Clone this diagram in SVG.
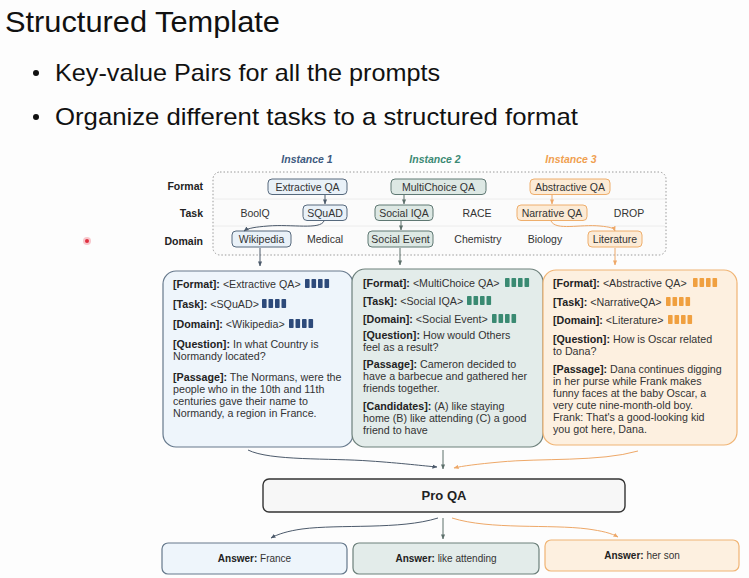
<svg xmlns="http://www.w3.org/2000/svg" width="749" height="578" viewBox="0 0 749 578">
<style>
.sans{font-family:"Liberation Sans",Arial,sans-serif;}
.slide{font-family:"Liberation Sans",Arial,sans-serif;fill:#111;}
.lbl{font-family:"Liberation Sans",Arial,sans-serif;font-size:10.5px;font-weight:bold;fill:#222;text-anchor:end;}
.inst{font-family:"Liberation Sans",Arial,sans-serif;font-size:10.5px;font-weight:bold;font-style:italic;text-anchor:middle;}
.opt{font-family:"Liberation Sans",Arial,sans-serif;font-size:10.5px;fill:#333;text-anchor:middle;}
.card{font-family:"Liberation Sans",Arial,sans-serif;font-size:10.7px;fill:#333;}
.card tspan.k{font-weight:bold;fill:#222;}
.b1{fill:#e9f1f8;stroke:#56697d;stroke-width:1;}
.b2{fill:#dde8e4;stroke:#5f7873;stroke-width:1;}
.b3{fill:#fcebd6;stroke:#eeae6c;stroke-width:1;}
.c1{fill:#eef5fb;stroke:#66798c;stroke-width:1.2;}
.c2{fill:#e3ecea;stroke:#6d807b;stroke-width:1.2;}
.c3{fill:#fdf0e0;stroke:#f0b474;stroke-width:1.2;}
.l1{fill:none;stroke:#4c5a6b;stroke-width:1;}
.l2{fill:none;stroke:#5d706b;stroke-width:1;}
.l3{fill:none;stroke:#eea868;stroke-width:1;}
.ans{font-family:"Liberation Sans",Arial,sans-serif;font-size:10px;fill:#333;text-anchor:middle;}
.ans tspan.k{font-weight:bold;fill:#222;}
</style>
<defs>
<marker id="m1" viewBox="0 0 6 6" refX="5.5" refY="3" markerWidth="5" markerHeight="5" orient="auto"><path d="M0,0.5 L6,3 L0,5.5 z" fill="#4c5a6b"/></marker>
<marker id="m2" viewBox="0 0 6 6" refX="5.5" refY="3" markerWidth="5" markerHeight="5" orient="auto"><path d="M0,0.5 L6,3 L0,5.5 z" fill="#5d706b"/></marker>
<marker id="m3" viewBox="0 0 6 6" refX="5.5" refY="3" markerWidth="5" markerHeight="5" orient="auto"><path d="M0,0.5 L6,3 L0,5.5 z" fill="#eea868"/></marker>
<g id="bars"><rect x="0" y="0" width="4.6" height="9" rx="0.8" fill="currentColor"/><rect x="6.5" y="0" width="4.6" height="9" rx="0.8" fill="currentColor"/><rect x="13" y="0" width="4.6" height="9" rx="0.8" fill="currentColor"/><rect x="19.5" y="0" width="4.6" height="9" rx="0.8" fill="currentColor"/></g>
</defs>
<rect x="0" y="0" width="749" height="578" fill="#fdfdfd"/>

<g id="slide-text">
<text class="slide" x="5" y="32" font-size="29" textLength="275" lengthAdjust="spacingAndGlyphs">Structured Template</text>
<circle cx="36" cy="73" r="3" fill="#111"/>
<text class="slide" x="55" y="81" font-size="24" textLength="385" lengthAdjust="spacingAndGlyphs">Key-value Pairs for all the prompts</text>
<circle cx="36" cy="117" r="3" fill="#111"/>
<text class="slide" x="55" y="125" font-size="24" textLength="523" lengthAdjust="spacingAndGlyphs">Organize different tasks to a structured format</text>
</g>

<g id="pointer">
<circle cx="87" cy="241" r="4" fill="#f4b0b8" opacity="0.7"/>
<circle cx="87" cy="241" r="2" fill="#e03040"/>
</g>

<g id="taxonomy">
<rect x="213" y="172" width="453" height="83" rx="7" fill="#fbfbfb" stroke="#9a9a9a" stroke-width="1" stroke-dasharray="1.5,2"/>
<line x1="214" y1="199" x2="665" y2="199" stroke="#ececec" stroke-width="1"/>
<line x1="214" y1="226" x2="665" y2="226" stroke="#ececec" stroke-width="1"/>
<text class="inst" x="307" y="163" fill="#3d5a80">Instance 1</text>
<text class="inst" x="435" y="163" fill="#3c8a74">Instance 2</text>
<text class="inst" x="571" y="163" fill="#f0a050">Instance 3</text>
<text class="lbl" x="203" y="190">Format</text>
<text class="lbl" x="203" y="217">Task</text>
<text class="lbl" x="203" y="245">Domain</text>
</g>

<g id="format-extractive"><rect class="b1" x="268" y="179" width="79" height="15.5" rx="4"/><text class="opt" x="307.5" y="190.5">Extractive QA</text></g>
<g id="format-multichoice"><rect class="b2" x="391" y="179" width="95" height="15.5" rx="4"/><text class="opt" x="438.5" y="190.5">MultiChoice QA</text></g>
<g id="format-abstractive"><rect class="b3" x="530" y="179" width="80" height="15.5" rx="4"/><text class="opt" x="570" y="190.5">Abstractive QA</text></g>

<g id="task-boolq"><text class="opt" x="255" y="217">BoolQ</text></g>
<g id="task-squad"><rect class="b1" x="303" y="205" width="44" height="15.5" rx="4"/><text class="opt" x="325" y="216.5">SQuAD</text></g>
<g id="task-socialiqa"><rect class="b2" x="375" y="205" width="58" height="15.5" rx="4"/><text class="opt" x="404" y="216.5">Social IQA</text></g>
<g id="task-race"><text class="opt" x="477" y="217">RACE</text></g>
<g id="task-narrative"><rect class="b3" x="517" y="205" width="70" height="15.5" rx="4"/><text class="opt" x="552" y="216.5">Narrative QA</text></g>
<g id="task-drop"><text class="opt" x="629" y="217">DROP</text></g>

<g id="domain-wikipedia"><rect class="b1" x="232" y="231" width="59" height="16" rx="4"/><text class="opt" x="261.5" y="243">Wikipedia</text></g>
<g id="domain-medical"><text class="opt" x="325" y="243">Medical</text></g>
<g id="domain-social"><rect class="b2" x="368" y="231" width="65" height="16" rx="4"/><text class="opt" x="400.5" y="243">Social Event</text></g>
<g id="domain-chemistry"><text class="opt" x="478" y="243">Chemistry</text></g>
<g id="domain-biology"><text class="opt" x="545" y="243">Biology</text></g>
<g id="domain-literature"><rect class="b3" x="588" y="231" width="54" height="16" rx="4"/><text class="opt" x="615" y="243">Literature</text></g>

<g id="card1">
<rect class="c1" x="163" y="271" width="190" height="176" rx="13"/>
<text class="card" x="173" y="288"><tspan class="k">[Format]:</tspan> &lt;Extractive QA&gt;</text>
<use href="#bars" x="305" y="279" color="#2d4a7a"/>
<text class="card" x="173" y="308"><tspan class="k">[Task]:</tspan> &lt;SQuAD&gt;</text>
<use href="#bars" x="262" y="299" color="#2d4a7a"/>
<text class="card" x="173" y="328"><tspan class="k">[Domain]:</tspan> &lt;Wikipedia&gt;</text>
<use href="#bars" x="289" y="319" color="#2d4a7a"/>
<text class="card" x="173" y="348"><tspan class="k">[Question]:</tspan> In what Country is</text>
<text class="card" x="173" y="360">Normandy located?</text>
<text class="card" x="173" y="381"><tspan class="k">[Passage]:</tspan> The Normans, were the</text>
<text class="card" x="173" y="393">people who in the 10th and 11th</text>
<text class="card" x="173" y="405">centuries gave their name to</text>
<text class="card" x="173" y="417">Normandy, a region in France.</text>
</g>

<g id="card2">
<rect class="c2" x="352" y="269" width="191" height="178" rx="13"/>
<text class="card" x="363" y="287"><tspan class="k">[Format]:</tspan> &lt;MultiChoice QA&gt;</text>
<use href="#bars" x="505" y="278" color="#3a8a72"/>
<text class="card" x="363" y="305"><tspan class="k">[Task]:</tspan> &lt;Social IQA&gt;</text>
<use href="#bars" x="467" y="296" color="#3a8a72"/>
<text class="card" x="363" y="323"><tspan class="k">[Domain]:</tspan> &lt;Social Event&gt;</text>
<use href="#bars" x="492" y="314" color="#3a8a72"/>
<text class="card" x="363" y="339"><tspan class="k">[Question]:</tspan> How would Others</text>
<text class="card" x="363" y="351">feel as a result?</text>
<text class="card" x="363" y="368"><tspan class="k">[Passage]:</tspan> Cameron decided to</text>
<text class="card" x="363" y="380">have a barbecue and gathered her</text>
<text class="card" x="363" y="392">friends together.</text>
<text class="card" x="363" y="410"><tspan class="k">[Candidates]:</tspan> (A) like staying</text>
<text class="card" x="363" y="422">home (B) like attending (C) a good</text>
<text class="card" x="363" y="434">friend to have</text>
</g>

<g id="card3">
<rect class="c3" x="543" y="270" width="194" height="175" rx="13"/>
<text class="card" x="553" y="287"><tspan class="k">[Format]:</tspan> &lt;Abstractive  QA&gt;</text>
<use href="#bars" x="693" y="278" color="#f0a040"/>
<text class="card" x="553" y="306"><tspan class="k">[Task]:</tspan> &lt;NarrativeQA&gt;</text>
<use href="#bars" x="666" y="297" color="#f0a040"/>
<text class="card" x="553" y="324"><tspan class="k">[Domain]:</tspan> &lt;Literature&gt;</text>
<use href="#bars" x="668" y="315" color="#f0a040"/>
<text class="card" x="553" y="343"><tspan class="k">[Question]:</tspan> How is Oscar related</text>
<text class="card" x="553" y="355">to Dana?</text>
<text class="card" x="553" y="373"><tspan class="k">[Passage]:</tspan> Dana continues digging</text>
<text class="card" x="553" y="385">in her purse while Frank makes</text>
<text class="card" x="553" y="397">funny faces at the baby Oscar, a</text>
<text class="card" x="553" y="409">very cute nine-month-old boy.</text>
<text class="card" x="553" y="421">Frank: That's a good-looking kid</text>
<text class="card" x="553" y="433">you got here, Dana.</text>
</g>

<g id="proqa">
<rect x="263" y="479" width="362" height="33" rx="6" fill="#f7f7f7" stroke="#333" stroke-width="1.4"/>
<text class="sans" x="444" y="500" font-size="13" font-weight="bold" fill="#222" text-anchor="middle">Pro QA</text>
</g>

<g id="answer1"><rect class="c1" x="162" y="543" width="185" height="31" rx="6"/><text class="ans" x="254.5" y="562"><tspan class="k">Answer:</tspan> France</text></g>
<g id="answer2"><rect class="c2" x="353" y="543" width="186" height="31" rx="6"/><text class="ans" x="446" y="562"><tspan class="k">Answer:</tspan> like attending</text></g>
<g id="answer3"><rect class="c3" x="545" y="540" width="194" height="31" rx="6"/><text class="ans" x="642" y="559"><tspan class="k">Answer:</tspan> her son</text></g>

<g id="connectors">
<path class="l1" d="M325,195 L325,204" marker-end="url(#m1)"/>
<path class="l1" d="M324,221 C320,230 292,224 268,226 C256,227 248,228 244,231" marker-end="url(#m1)"/>
<path class="l1" d="M260,248 L260,266" marker-end="url(#m1)"/>
<path class="l2" d="M404,195 L404,204" marker-end="url(#m2)"/>
<path class="l2" d="M401,221 L401,230" marker-end="url(#m2)"/>
<path class="l2" d="M400,248 L400,265" marker-end="url(#m2)"/>
<path class="l3" d="M552,195 L552,204" marker-end="url(#m3)"/>
<path class="l3" d="M551,221 C556,231 580,224 600,226 C610,227 614,228 615,231" marker-end="url(#m3)"/>
<path class="l3" d="M615,248 L615,265" marker-end="url(#m3)"/>
<path class="l1" d="M248,450 C270,461 330,458 370,461 C400,463 425,466 437,467" marker-end="url(#m1)"/>
<path class="l2" d="M443,450 L443,469" marker-end="url(#m2)"/>
<path class="l3" d="M638,451 C600,462 540,458 500,462 C478,464 462,466 454,468" marker-end="url(#m3)"/>
<path class="l1" d="M438,518 C400,530 340,524 302,529 C288,531 278,534 271,538" marker-end="url(#m1)"/>
<path class="l2" d="M443,518 L443,539" marker-end="url(#m2)"/>
<path class="l3" d="M452,518 C490,530 550,524 588,529 C602,531 611,533 618,537" marker-end="url(#m3)"/>
</g>
</svg>
